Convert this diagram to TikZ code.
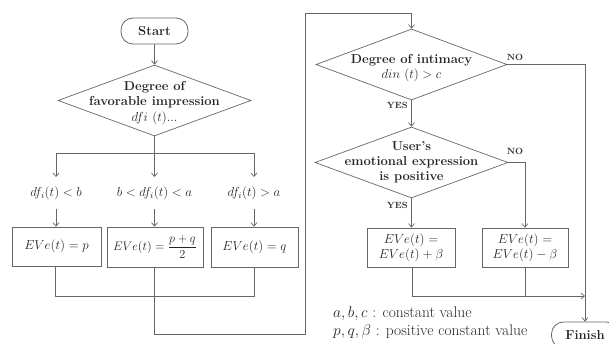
\RequirePackage{fix-cm}
\documentclass[tikz,border=0pt]{standalone}
\usepackage{amsmath}
\usetikzlibrary{shapes.geometric,arrows.meta}
\begin{document}
\begin{tikzpicture}[x=1pt,y=-1pt,
  line/.style={draw=black!60, line width=0.7pt},
  arr/.style={line, -{Straight Barb[length=3.5pt,width=6pt]}},
  term/.style={draw=black!60, line width=0.8pt, rounded corners=12pt, minimum width=67pt, minimum height=26pt, inner sep=0pt},
  dec/.style={draw=black!60, line width=0.7pt, diamond, inner sep=0pt},
  proc/.style={draw=black!60, line width=0.7pt, rectangle, inner sep=0pt},
  btxt/.style={font=\fontsize{13}{15}\selectfont\bfseries, text=black!85, align=center, inner sep=0pt},
  mtxt/.style={font=\fontsize{13}{15.5}\selectfont, text=black!85, align=center, inner sep=0pt},
  small/.style={font=\fontsize{9}{10}\selectfont\bfseries, text=black!80, inner sep=0pt},
  legend/.style={font=\fontsize{15.5}{17}\selectfont, text=black!85, anchor=west, inner sep=0pt}
]
\useasboundingbox (0,0) rectangle (609,344);
\begin{scope}
\clip (0,0) rectangle (609,344);

% left part
\node[term] (start) at (154.5,31) {};
\node[btxt] (startt) at (154.5,31) {Start};
\node[dec, minimum width=193pt, minimum height=71pt] (d1) at (154.5,100.5) {};
\node[btxt] (d1t) at (154.5,103) {Degree of\\favorable impression\\[1pt]\mdseries$dfi\ (t)...$};
\draw[arr] (start) -- (d1);

\coordinate (br) at (154.5,153);
\coordinate (bl) at (56,153);
\coordinate (brr) at (254,153);
\coordinate (a1) at (56,177);
\coordinate (a2) at (154.5,177);
\coordinate (a3) at (254,177);
\draw[line] (d1.south) -- (br);
\draw[arr] (bl) -- (a1);
\draw[arr] (br) -- (a2);
\draw[arr] (brr) -- (a3);
\draw[line] (bl) -- (brr);

\node[mtxt] (c1) at (56,193) {$df_i(t) < b$};
\node[mtxt] (c2) at (154.5,193) {$b < df_i(t) < a$};
\node[mtxt] (c3) at (254,193) {$df_i(t) > a$};

\node[proc, minimum width=89pt, minimum height=39pt] (b1) at (56.5,246.5) {};
\node[proc, minimum width=96pt, minimum height=40pt] (b2) at (155,247) {};
\node[proc, minimum width=87pt, minimum height=40pt] (b3) at (254.5,247) {};
\node[mtxt] (b1t) at (b1) {$EVe(t) = p$};
\node[mtxt, font=\fontsize{12.3}{15}\selectfont] (b2t) at (b2) {$EVe(t) = \dfrac{p+q}{2}$};
\node[mtxt] (b3t) at (b3) {$EVe(t) = q$};

\coordinate (c1b) at (56,209);
\coordinate (c2b) at (154.5,209);
\coordinate (c3b) at (254,209);
\draw[arr] (c1b) -- (c1b |- b1.north);
\draw[arr] (c2b) -- (c2b |- b2.north);
\draw[arr] (c3b) -- (c3b |- b3.north);

\coordinate (m1) at (55,296);
\coordinate (m3) at (254,296);
\draw[line] (b1.south -| m1) -- (m1) -- (m3) -- (m3 |- b3.south);

\coordinate (l1) at (154,334);
\coordinate (l2) at (305,334);
\coordinate (l3) at (305,13);
\coordinate (l4) at (411.5,13);

% right part
\node[dec, minimum width=191pt, minimum height=71pt] (d2) at (411.5,64.5) {};
\node[btxt] (d2t) at (411.5,68.5) {Degree of intimacy\\\mdseries$din\ (t) > c$};
\draw[arr] (b2.south -| l1) -- (l1) -- (l2) -- (l3) -- (l4) -- (d2.north);

\node[dec, minimum width=193pt, minimum height=71pt] (d3) at (411.5,162.5) {};
\node[btxt] (d3t) at (411.5,162.5) {User's\\emotional expression\\is positive};
\draw[arr] (d2.south) -- (d3.north);
\node[small, anchor=east] (yes1) at (408,105) {YES};
\node[small] (no1) at (515,57) {NO};
\node[small] (no2) at (515,151) {NO};

\node[proc, minimum width=88pt, minimum height=39pt] (b4) at (411,247.5) {};
\node[proc, minimum width=86pt, minimum height=39pt] (b5) at (525,247.5) {};
\node[mtxt] (b4t) at (b4) {$EVe(t) =$\\$EVe(t) + \beta$};
\node[mtxt] (b5t) at (b5) {$EVe(t) =$\\$EVe(t) - \beta$};
\draw[arr] (d3.south) -- (d3.south |- b4.north);
\node[small, anchor=east] (yes2) at (408,205) {YES};

\coordinate (r3) at (525,162.5);
\draw[arr] (d3.east) -- (r3) -- (r3 |- b5.north);

\node[term] (fin) at (585,335) {};
\node[btxt] (fint) at (585,335) {Finish};
\coordinate (r2) at (585,64.5);
\draw[arr] (d2.east) -- (r2) -- (fin.north);

\coordinate (j4) at (412,296);
\coordinate (j5) at (525,296);
\coordinate (jf) at (585,296);
\draw[arr] (b4.south -| j4) -- (j4) -- (jf);
\draw[line] (b5.south) -- (j5);

\node[legend] (lg1) at (333,314) {$a, b, c$ : constant value};
\node[legend] (lg2) at (333,332) {$p, q, \beta$ : positive constant value};
\end{scope}
\end{tikzpicture}
\end{document}
